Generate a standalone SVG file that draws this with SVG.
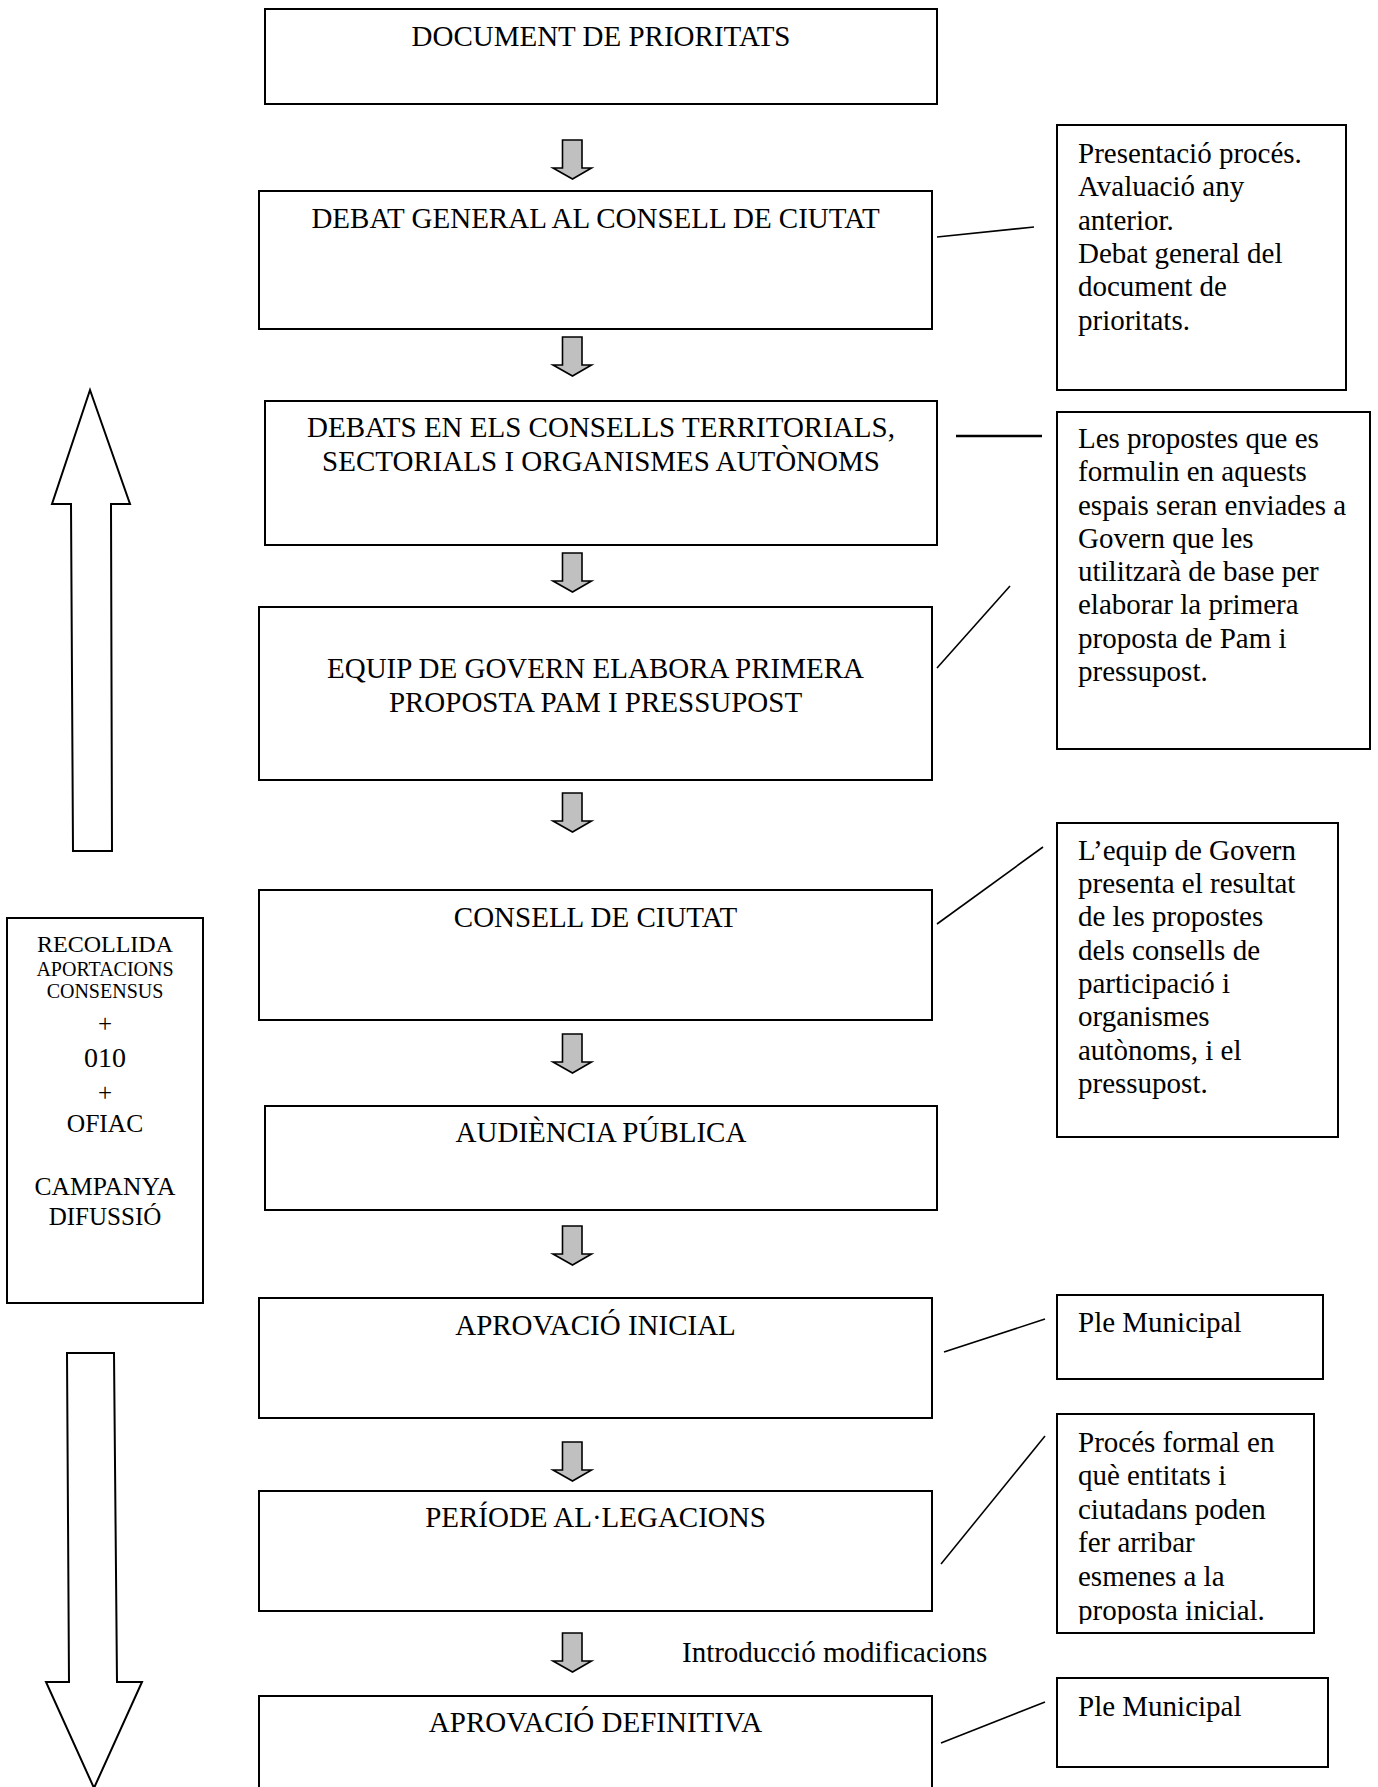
<svg xmlns="http://www.w3.org/2000/svg" width="1378" height="1787" viewBox="0 0 1378 1787">
<style>
.box{fill:#fff;stroke:#000;stroke-width:2}
.t{font-family:"Liberation Serif","Times New Roman",serif;font-size:29px;fill:#000}
.c{text-anchor:middle}
.ga{fill:#c0c0c0;stroke:#000;stroke-width:1.6;stroke-linejoin:miter}
.big{fill:#fff;stroke:#000;stroke-width:2;stroke-linejoin:miter}
.con{stroke:#000;stroke-width:1.6;fill:none}
</style>
<defs>
<path id="garrow" class="ga" d="M-10,0 H9.5 V28 H19 L0,39 L-19.5,28 H-10 Z"/>
<clipPath id="clipE"><rect x="1057" y="1414" width="260" height="210"/></clipPath>
</defs>
<rect width="1378" height="1787" fill="#fff"/>

<g id="connectors">
<line class="con" x1="937" y1="237" x2="1034" y2="227"/>
<line class="con" x1="956" y1="436" x2="1042" y2="436" style="stroke-width:2.6"/>
<line class="con" x1="937" y1="668" x2="1010" y2="586"/>
<line class="con" x1="937" y1="924" x2="1043" y2="847"/>
<line class="con" x1="944" y1="1352" x2="1045" y2="1319"/>
<line class="con" x1="941" y1="1564" x2="1045" y2="1436"/>
<line class="con" x1="941" y1="1743" x2="1045" y2="1702"/>
<use href="#garrow" x="572.5" y="140"/>
<use href="#garrow" x="572.5" y="337"/>
<use href="#garrow" x="572.5" y="553"/>
<use href="#garrow" x="572.5" y="793"/>
<use href="#garrow" x="572.5" y="1034"/>
<use href="#garrow" x="572.5" y="1226"/>
<use href="#garrow" x="572.5" y="1442"/>
<use href="#garrow" x="572.5" y="1633"/>
</g>

<g id="arrow-up"><polygon class="big" points="90,390 130,504 111,504 112,851 73,851 71,504 52,504"/></g>
<g id="arrow-down"><polygon class="big" points="67,1353 114,1353 117,1682 142,1682 94,1788 46,1682 69,1682"/></g>

<g id="n-document"><rect class="box" x="265" y="9" width="672" height="95"/><text class="t c" x="601" y="46">DOCUMENT DE PRIORITATS</text></g>
<g id="n-debat-general"><rect class="box" x="259" y="191" width="673" height="138"/><text class="t c" x="595.5" y="228">DEBAT GENERAL AL CONSELL DE CIUTAT</text></g>
<g id="n-debats"><rect class="box" x="265" y="401" width="672" height="144"/><text class="t c" x="601" y="437">DEBATS EN ELS CONSELLS TERRITORIALS,</text><text class="t c" x="601" y="471">SECTORIALS I ORGANISMES AUTÒNOMS</text></g>
<g id="n-equip"><rect class="box" x="259" y="607" width="673" height="173"/><text class="t c" x="595.5" y="678">EQUIP DE GOVERN ELABORA PRIMERA</text><text class="t c" x="595.5" y="712">PROPOSTA PAM I PRESSUPOST</text></g>
<g id="n-consell"><rect class="box" x="259" y="890" width="673" height="130"/><text class="t c" x="595.5" y="927">CONSELL DE CIUTAT</text></g>
<g id="n-audiencia"><rect class="box" x="265" y="1106" width="672" height="104"/><text class="t c" x="601" y="1142">AUDIÈNCIA PÚBLICA</text></g>
<g id="n-aprov-inicial"><rect class="box" x="259" y="1298" width="673" height="120"/><text class="t c" x="595.5" y="1335">APROVACIÓ INICIAL</text></g>
<g id="n-allegacions"><rect class="box" x="259" y="1491" width="673" height="120"/><text class="t c" x="595.5" y="1527">PERÍODE AL·LEGACIONS</text></g>
<g id="n-aprov-definitiva"><rect class="box" x="259" y="1696" width="673" height="120"/><text class="t c" x="595.5" y="1732">APROVACIÓ DEFINITIVA</text></g>

<g id="n-recollida"><rect class="box" x="7" y="918" width="196" height="385"/>
<text class="t c" x="105" y="952" style="font-size:24px">RECOLLIDA</text>
<text class="t c" x="105" y="976" style="font-size:20px">APORTACIONS</text>
<text class="t c" x="105" y="998" style="font-size:20px">CONSENSUS</text>
<text class="t c" x="105" y="1032" style="font-size:25px">+</text>
<text class="t c" x="105" y="1067" style="font-size:28px">010</text>
<text class="t c" x="105" y="1101" style="font-size:25px">+</text>
<text class="t c" x="105" y="1132" style="font-size:25.5px">OFIAC</text>
<text class="t c" x="105" y="1195" style="font-size:25.5px">CAMPANYA</text>
<text class="t c" x="105" y="1225" style="font-size:25px">DIFUSSIÓ</text>
</g>

<g id="n-presentacio"><rect class="box" x="1057" y="125" width="289" height="265"/>
<text class="t" x="1078" y="163">Presentació procés.</text>
<text class="t" x="1078" y="196">Avaluació any</text>
<text class="t" x="1078" y="230">anterior.</text>
<text class="t" x="1078" y="263">Debat general del</text>
<text class="t" x="1078" y="296">document de</text>
<text class="t" x="1078" y="330">prioritats.</text>
</g>
<g id="n-propostes"><rect class="box" x="1057" y="412" width="313" height="337"/>
<text class="t" x="1078" y="448">Les propostes que es</text>
<text class="t" x="1078" y="481">formulin en aquests</text>
<text class="t" x="1078" y="515">espais seran enviades a</text>
<text class="t" x="1078" y="548">Govern que les</text>
<text class="t" x="1078" y="581">utilitzarà de base per</text>
<text class="t" x="1078" y="614">elaborar la primera</text>
<text class="t" x="1078" y="648">proposta de Pam i</text>
<text class="t" x="1078" y="681">pressupost.</text>
</g>
<g id="n-equip-presenta"><rect class="box" x="1057" y="823" width="281" height="314"/>
<text class="t" x="1078" y="860">L’equip de Govern</text>
<text class="t" x="1078" y="893">presenta el resultat</text>
<text class="t" x="1078" y="926">de les propostes</text>
<text class="t" x="1078" y="960">dels consells de</text>
<text class="t" x="1078" y="993">participació i</text>
<text class="t" x="1078" y="1026">organismes</text>
<text class="t" x="1078" y="1060">autònoms, i el</text>
<text class="t" x="1078" y="1093">pressupost.</text>
</g>
<g id="n-ple1"><rect class="box" x="1057" y="1295" width="266" height="84"/><text class="t" x="1078" y="1332">Ple Municipal</text></g>
<g id="n-proces"><rect class="box" x="1057" y="1414" width="257" height="219"/>
<g clip-path="url(#clipE)">
<text class="t" x="1078" y="1452">Procés formal en</text>
<text class="t" x="1078" y="1485">què entitats i</text>
<text class="t" x="1078" y="1519">ciutadans poden</text>
<text class="t" x="1078" y="1552">fer arribar</text>
<text class="t" x="1078" y="1586">esmenes a la</text>
<text class="t" x="1078" y="1620">proposta inicial.</text>
</g></g>
<g id="n-ple2"><rect class="box" x="1057" y="1678" width="271" height="89"/><text class="t" x="1078" y="1716">Ple Municipal</text></g>

<g id="label-modificacions"><text class="t" x="682" y="1662">Introducció modificacions</text></g>
</svg>
